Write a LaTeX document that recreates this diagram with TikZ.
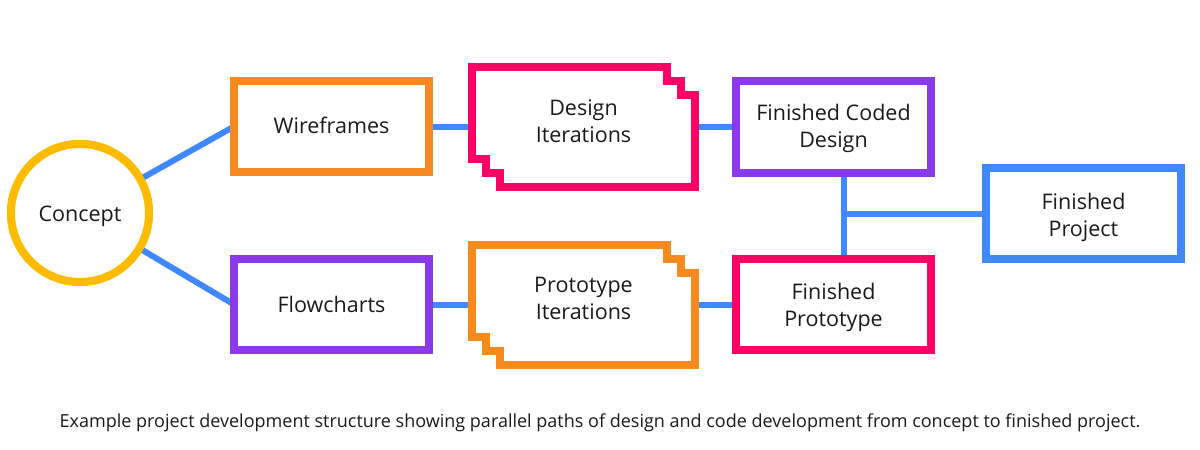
\documentclass[tikz,border=0pt]{standalone}
\usepackage{fontspec}
\setmainfont{Open Sans}
\usetikzlibrary{calc}
\definecolor{cOrange}{HTML}{F78A1F}
\definecolor{cPink}{HTML}{FF0066}
\definecolor{cPurple}{HTML}{8A3AE8}
\definecolor{cBlue}{HTML}{3F88FF}
\definecolor{cYellow}{HTML}{FFBB00}
\definecolor{cText}{HTML}{1A1A1A}
\newcommand\iterframe[2]{%
  \draw[line width=8pt,#2,fill=white] (#1) -- ++(195,0) -- ++(0,14) -- ++(14,0) -- ++(0,14) -- ++(14,0)
    -- ++(0,92) -- ++(-195,0) -- ++(0,-14) -- ++(-14,0) -- ++(0,-14) -- ++(-14,0) -- cycle;}
\begin{document}
\begin{tikzpicture}[x=1pt,y=-1pt,
  lbl/.style={text=cText,font=\fontsize{21.5}{27}\selectfont,align=center,inner sep=0pt},
  boxnode/.style={draw=#1,line width=8pt,fill=white,minimum width=195pt,minimum height=91pt,inner sep=0pt,outer sep=0pt},
  ringnode/.style={draw=cYellow,fill=white,line width=8pt,circle,minimum size=138pt,inner sep=0pt,outer sep=0pt},
  conn/.style={draw=cBlue,line width=6pt}]
\useasboundingbox (0,0) rectangle (1200,450);
% shapes
\node[ringnode] (concept) at (80,213) {};
\node[boxnode=cOrange] (wire) at (331.5,126.5) {};
\node[boxnode=cPurple] (flow) at (331.5,304.5) {};
\node[boxnode=cPurple,minimum height=92pt] (fcd) at (833.5,127) {};
\node[boxnode=cPink] (fp) at (833.5,304.5) {};
\node[boxnode=cBlue] (proj) at (1083.5,213.5) {};
\node[minimum width=223pt,minimum height=120pt,inner sep=0pt,outer sep=0pt] (di) at (583.5,127) {};
\node[minimum width=223pt,minimum height=120pt,inner sep=0pt,outer sep=0pt] (pi) at (583.5,305) {};
\coordinate (j) at (844,213.5);
% connectors
\draw[conn] (concept) -- (wire.west);
\draw[conn] (concept) -- (flow.west);
\draw[conn] (wire.east) -- (wire.east -| di.west);
\draw[conn] (flow.east) -- (flow.east -| pi.west);
\draw[conn] (fcd.west -| di.east) -- (fcd.west);
\draw[conn] (fp.west -| pi.east) -- (fp.west);
\draw[conn] (j |- fcd.south) -- (j |- fp.north);
\draw[conn] (j) -- (proj.west);
% redraw shapes over connector ends
\node[ringnode] at (concept) {};
\node[boxnode=cOrange] at (wire) {};
\node[boxnode=cPurple] at (flow) {};
\node[boxnode=cPurple,minimum height=92pt] at (fcd) {};
\node[boxnode=cPink] at (fp) {};
\node[boxnode=cBlue] at (proj) {};
\iterframe{di.north west}{cPink}
\iterframe{pi.north west}{cOrange}
% labels
\node[lbl] (conceptlbl) at ($(concept.center)+(0,3)$) {Concept};
\node[lbl] (wirelbl) at ($(wire.center)+(0,-1.5)$) {Wireframes};
\node[lbl] (flowlbl) at (flow.center) {Flowcharts};
\node[lbl] (fcdlbl) at ($(fcd.center)+(0,1)$) {Finished Coded\\Design};
\node[lbl] (fplbl) at ($(fp.center)+(0,3)$) {Finished\\Prototype};
\node[lbl] (projlbl) at ($(proj.center)+(0,3.5)$) {Finished\\Project};
\node[lbl] (dilbl) at ($(di.center)+(0,-6)$) {Design\\Iterations};
\node[lbl] (pilbl) at ($(pi.center)+(0,-7)$) {Prototype\\Iterations};
\node[text=cText,font=\fontsize{18}{22}\selectfont,inner sep=0pt] (cap) at (600,423) {Example project development structure showing parallel paths of design and code development from concept to finished project.};
\end{tikzpicture}
\end{document}
